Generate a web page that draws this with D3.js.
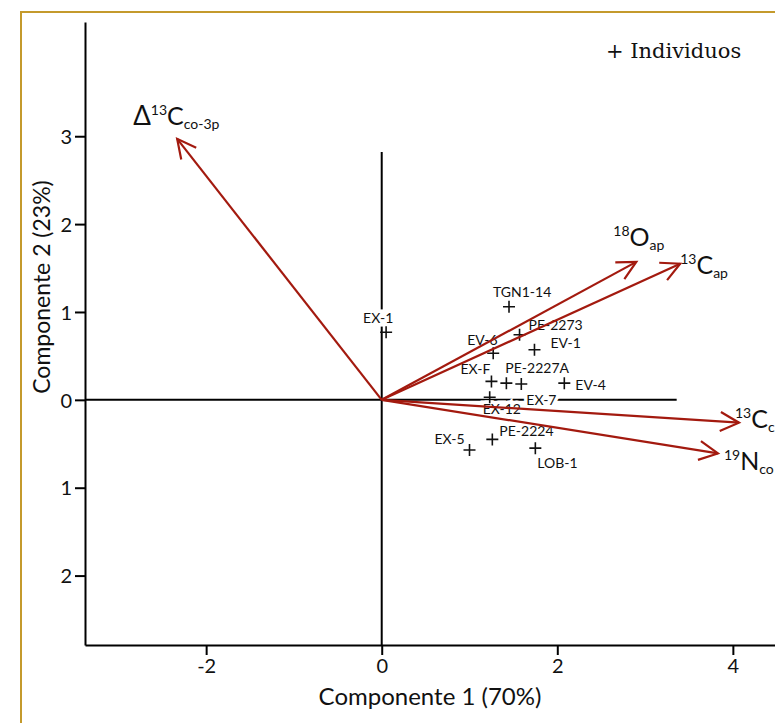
<!DOCTYPE html>
<html>
<head>
<meta charset="utf-8">
<script src="https://cdn.jsdelivr.net/npm/d3@7"></script>
<style>
  body { margin: 0; background: #fff; }
  svg { display: block; }
</style>
</head>
<body>
<div id="chart"></div>
<script>
// axis ticks
const xTicks = [-2, 0, 2, 4];
const yTicks = [-2, -1, 0, 1, 2, 3];
const yTickLabels = ["2", "1", "0", "1", "2", "3"];

// individuals (scores)
const pointNames = ["EX-1", "TGN1-14", "PE-2273", "EV-1", "EV-6", "EX-F", "PE-2227A",
                    "EX-7", "EV-4", "EX-12", "EX-5", "PE-2224", "LOB-1"];
const pointX = [0.05, 1.45, 1.57, 1.74, 1.27, 1.25, 1.42, 1.59, 2.08, 1.23, 1.00, 1.26, 1.75];
const pointY = [0.77, 1.06, 0.74, 0.57, 0.53, 0.21, 0.19, 0.18, 0.19, 0.03, -0.57, -0.45, -0.55];

// variables (loadings)
const loadPre = ["Δ", "", "", "", ""];
const loadSup = ["13", "18", "13", "13", "19"];
const loadMain = ["C", "O", "C", "C", "N"];
const loadSub = ["co-3p", "ap", "ap", "c", "co"];
const loadX = [-2.33, 2.90, 3.40, 4.07, 3.83];
const loadY = [2.97, 1.57, 1.55, -0.26, -0.61];

// label placement (pixels, relative to mark)
const pointLabelDx = [-23, -16, 9, 16, -26, -31, -1, 5, 11, -7, -35, 7, 2];
const pointLabelDy = [-9, -10, -5, -2, -8, -7, -10, 21, 7, 17, -6, -3, 20];
const loadLabelDx = [-44, -23, 0, -4, 6];
const loadLabelDy = [-14, -16, 10, 5, 17];

const width = 775;
const height = 723;
const arrowColor = "#a31a0f";
const font = "Lato, 'DejaVu Sans', sans-serif";

const svg = d3.select("#chart")
              .append("svg")
              .attr("width", width)
              .attr("height", height);

// gold frame
svg.append("path")
   .attr("d", "M21," + height + " L21,12 L" + width + ",12")
   .attr("fill", "none")
   .attr("stroke", "#c49a2c")
   .attr("stroke-width", 2);

const xScale = d3.scaleLinear().domain([-3.38, 4.48]).range([85, 775]);
const yScale = d3.scaleLinear().domain([-2.79, 4.3]).range([645, 22]);

// crosshair at origin
svg.append("line")
   .attr("x1", xScale(0)).attr("x2", xScale(0))
   .attr("y1", yScale(2.82)).attr("y2", yScale(-2.79))
   .attr("stroke", "#000").attr("stroke-width", 2);
svg.append("line")
   .attr("x1", xScale(-3.38)).attr("x2", xScale(3.36))
   .attr("y1", yScale(0)).attr("y2", yScale(0))
   .attr("stroke", "#000").attr("stroke-width", 2);

// axes
const xAxis = d3.axisBottom(xScale)
                .tickValues(xTicks)
                .tickFormat(d => String(d))
                .tickSize(10)
                .tickSizeOuter(0)
                .tickPadding(4);
const yAxis = d3.axisLeft(yScale)
                .tickValues(yTicks)
                .tickFormat((d, i) => yTickLabels[i])
                .tickSize(10)
                .tickSizeOuter(0)
                .tickPadding(3);

const gx = svg.append("g")
   .attr("transform", "translate(0," + yScale.range()[0] + ")")
   .call(xAxis);
const gy = svg.append("g")
   .attr("transform", "translate(" + xScale.range()[0] + ",0)")
   .call(yAxis);

[gx, gy].forEach(g => {
    g.select(".domain").attr("stroke-width", 2);
    g.selectAll(".tick line").attr("stroke-width", 2);
    g.selectAll(".tick text")
     .attr("font-family", font)
     .attr("font-size", "20px")
     .attr("fill", "#111");
});
gy.selectAll(".tick text").attr("dy", "0.36em");

// axis titles
svg.append("text")
   .attr("x", 430).attr("y", 705)
   .attr("text-anchor", "middle")
   .attr("font-family", font)
   .attr("font-size", "24px")
   .attr("fill", "#111")
   .text("Componente 1 (70%)");
svg.append("text")
   .attr("transform", "translate(50,287) rotate(-90)")
   .attr("text-anchor", "middle")
   .attr("font-family", font)
   .attr("font-size", "23px")
   .attr("fill", "#111")
   .text("Componente 2 (23%)");

// legend
svg.append("text")
   .attr("x", 606).attr("y", 58)
   .attr("font-family", "'DejaVu Serif', serif")
   .attr("font-size", "21px")
   .attr("fill", "#111")
   .text("+ Individuos");

// point labels (white halo cuts the crosshair like the original)
svg.append("g").selectAll("text")
   .data(pointNames)
   .enter()
   .append("text")
   .attr("x", (d, i) => xScale(pointX[i]) + pointLabelDx[i])
   .attr("y", (d, i) => yScale(pointY[i]) + pointLabelDy[i])
   .attr("font-family", font)
   .attr("font-size", "14px")
   .attr("fill", "#111")
   .attr("stroke", "#fff")
   .attr("stroke-width", 7)
   .attr("paint-order", "stroke")
   .text(d => d);

// point markers
svg.append("g").selectAll("path")
   .data(pointNames)
   .enter()
   .append("path")
   .attr("d", (d, i) => {
       const cx = xScale(pointX[i]), cy = yScale(pointY[i]), r = 6;
       return "M" + (cx - r) + "," + cy + "H" + (cx + r) + "M" + cx + "," + (cy - r) + "V" + (cy + r);
   })
   .attr("stroke", "#111")
   .attr("stroke-width", 1.6)
   .attr("fill", "none");

// loading arrows
const ox = xScale(0), oy = yScale(0);
const arrows = svg.append("g")
   .attr("stroke", arrowColor)
   .attr("stroke-width", 2.2)
   .attr("fill", "none");

arrows.selectAll("line")
   .data(loadX)
   .enter()
   .append("line")
   .attr("x1", ox).attr("y1", oy)
   .attr("x2", (d, i) => xScale(loadX[i]))
   .attr("y2", (d, i) => yScale(loadY[i]));

arrows.selectAll("path")
   .data(loadX)
   .enter()
   .append("path")
   .attr("stroke-linejoin", "miter")
   .attr("d", (d, i) => {
       const tx = xScale(loadX[i]), ty = yScale(loadY[i]);
       const a = Math.atan2(ty - oy, tx - ox);
       const len = 21, spread = 0.47;
       const p1 = [tx - len * Math.cos(a - spread), ty - len * Math.sin(a - spread)];
       const p2 = [tx - len * Math.cos(a + spread), ty - len * Math.sin(a + spread)];
       return "M" + p1 + "L" + tx + "," + ty + "L" + p2;
   });

// loading labels
loadMain.forEach((m, i) => {
    const t = svg.append("text")
       .attr("x", xScale(loadX[i]) + loadLabelDx[i])
       .attr("y", yScale(loadY[i]) + loadLabelDy[i])
       .attr("font-family", font)
       .attr("fill", "#111");
    if (loadPre[i]) {
        t.append("tspan").attr("font-size", "26px").text(loadPre[i]);
    }
    t.append("tspan").attr("font-size", "14px").attr("dy", -10).text(loadSup[i]);
    t.append("tspan").attr("font-size", "25px").attr("dy", 10).text(m);
    t.append("tspan").attr("font-size", "14px").attr("dy", 4).text(loadSub[i]);
});
</script>
</body>
</html>
